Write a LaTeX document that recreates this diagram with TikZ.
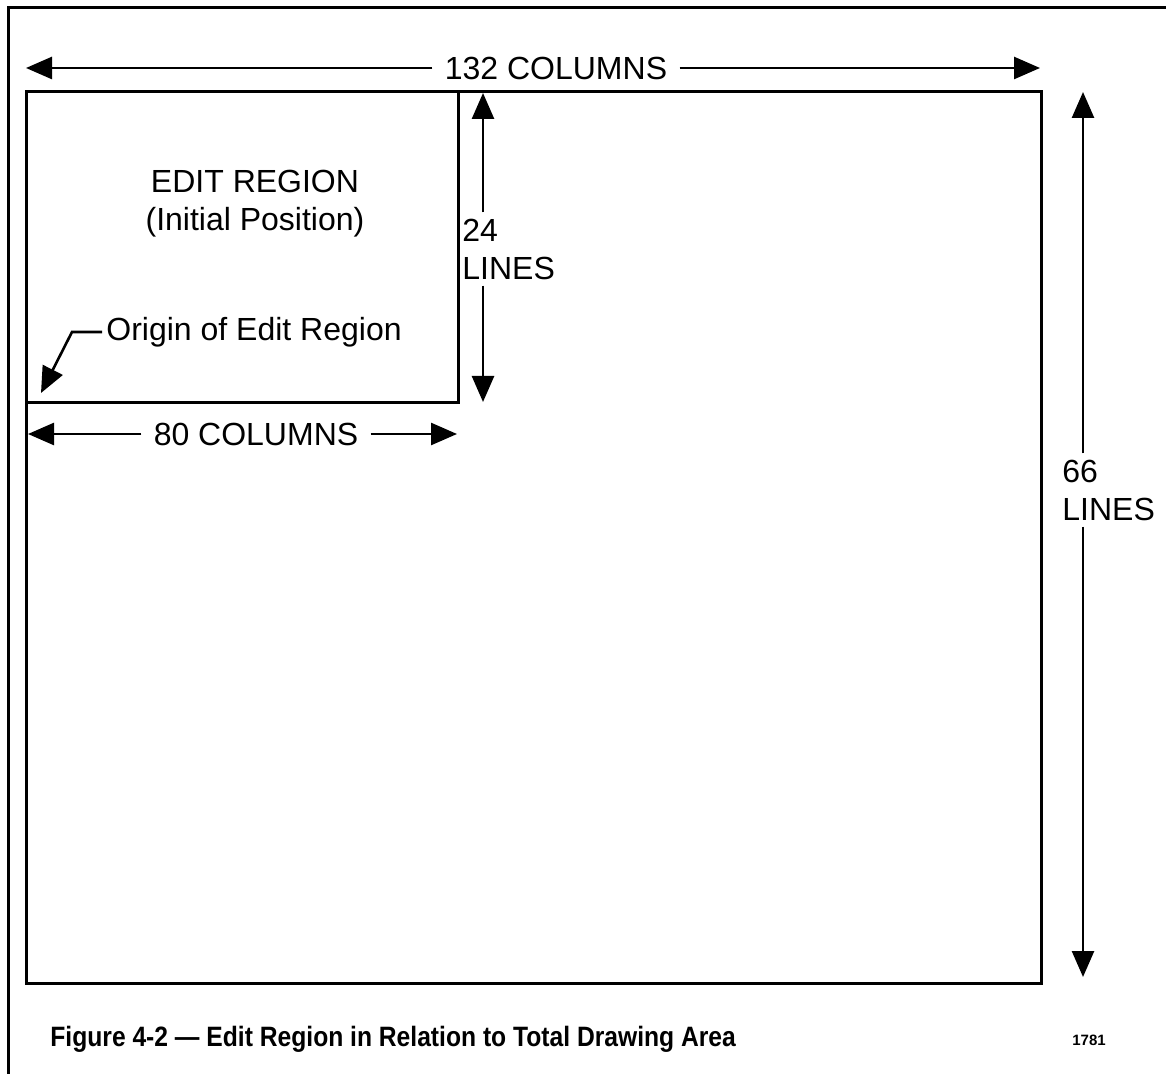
\documentclass[tikz,border=0pt]{standalone}
\usepackage{fontspec}
\setmainfont{Liberation Sans}
\newfontfamily\capfont[FakeStretch=0.88]{Liberation Sans}
\usetikzlibrary{positioning, arrows.meta, calc}

\begin{document}
\begin{tikzpicture}[x=0.5pt, y=-0.5pt,
    frame/.style={line width=1.5pt},
    dim/.style={line width=1.3pt, -{Triangle[length=13pt,width=11pt]}},
    lbl/.style={font=\fontsize{16}{19}\selectfont, inner sep=0pt}]

  \useasboundingbox (0,0) rectangle (1166,1074);

  % page border
  \draw[frame] (1166,8) -- (8,8) -- (8,1074);

  % total drawing area and edit region
  \coordinate (area) at (26,92);
  \draw[frame] (area) rectangle (1041,983);
  \draw[frame] (area) rectangle (458,403);

  % 132 columns
  \coordinate (c132l) at (26,68);
  \coordinate (c132r) at (1040,68);
  \node[lbl, inner xsep=6pt] (c132) at (556,68) {132 COLUMNS};
  \draw[dim] (c132) -- (c132l);
  \draw[dim] (c132) -- (c132r);

  % 80 columns
  \coordinate (c80l) at (28,434);
  \coordinate (c80r) at (457,434);
  \node[lbl, inner xsep=6pt] (c80) at (256,434) {80 COLUMNS};
  \draw[dim] (c80) -- (c80l);
  \draw[dim] (c80) -- (c80r);

  % 24 lines
  \coordinate (l24t) at (483,93);
  \coordinate (l24b) at (483,402);
  \node[lbl, inner ysep=3pt, align=left, anchor=west] (l24) at (462,249) {24\\LINES};
  \draw[dim] (l24t |- l24.north) -- (l24t);
  \draw[dim] (l24b |- l24.south) -- (l24b);

  % 66 lines
  \coordinate (l66t) at (1083,92);
  \coordinate (l66b) at (1083,977);
  \node[lbl, inner ysep=3pt, align=left, anchor=west] (l66) at (1062,490) {66\\LINES};
  \draw[dim] (l66t |- l66.north) -- (l66t);
  \draw[dim] (l66b |- l66.south) -- (l66b);

  % edit region labels
  \node[lbl, align=center] (edit) at (255,204) {EDIT REGION\\(Initial Position)};
  \node[lbl, inner xsep=2pt, anchor=west] (orig) at (102,332) {Origin of Edit Region};
  \coordinate (origtip) at (41,393);
  \draw[dim] (orig.west) -- ++(-30,0) -- (origtip);

  % caption
  \node[anchor=base west, inner sep=0pt, font=\capfont\bfseries\fontsize{14}{16}\selectfont]
    (caption) at (50,1046) {Figure 4-2 — Edit Region in Relation to Total Drawing Area};
  \node[anchor=base, inner sep=0pt, font=\bfseries\fontsize{7.5}{9}\selectfont]
    (fignum) at (1089,1045) {1781};
\end{tikzpicture}
\end{document}
